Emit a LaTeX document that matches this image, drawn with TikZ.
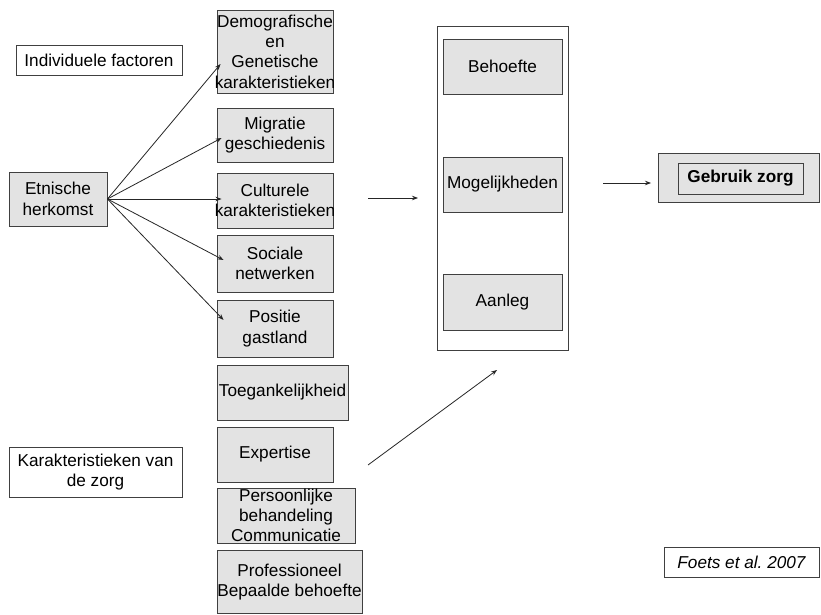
\documentclass[tikz,border=0pt]{standalone}
\usepackage{fontspec}
\setmainfont{Liberation Sans}
\usetikzlibrary{arrows.meta}
\definecolor{boxfill}{HTML}{E3E3E3}
\definecolor{edge}{HTML}{404040}
\newcommand{\myfs}{\fontsize{17.2}{20.3}\selectfont}
\begin{document}
\begin{tikzpicture}[x=1pt,y=-1pt,
 txt/.style={inner sep=0pt, align=center, font=\myfs},
 box/.style={txt, draw=edge, line width=0.9pt, fill=boxfill},
 wbox/.style={box, fill=white},
 arr/.style={draw=black!85, line width=0.8pt, -{Stealth[length=6pt,width=4.5pt]}}]
\useasboundingbox[fill=white] (0,0) rectangle (821,615);

% left labels
\node[wbox, minimum width=166pt, minimum height=30pt] (ind) at (99,60) {Individuele factoren};
\node[box, minimum width=98pt, minimum height=54pt] (etn) at (58,199) {Etnische\\herkomst};
\node[wbox, minimum width=173pt, minimum height=50pt] (kar) at (95.5,472) {Karakteristieken van\\de zorg};

% middle column
\node[box, minimum width=116pt, minimum height=83pt] (dem) at (275,51.5) {};
\node[txt] (demtxt) at (dem.center) {Demografische\\en\\Genetische\\karakteristieken};
\node[box, minimum width=116pt, minimum height=54pt] (mig) at (275,135) {Migratie\\geschiedenis};
\node[box, minimum width=116pt, minimum height=55pt] (cul) at (275,200.5) {};
\node[txt] (cultxt) at (cul.center) {Culturele\\karakteristieken};
\node[box, minimum width=116pt, minimum height=57pt] (soc) at (275,263.5) {Sociale\\netwerken};
\node[box, minimum width=116pt, minimum height=57pt] (pos) at (275,328.5) {Positie\\gastland};
\node[box, minimum width=131pt, minimum height=55pt] (toe) at (282.5,392.5) {Toegankelijkheid};
\node[box, minimum width=116pt, minimum height=55pt] (exp) at (275,454.5) {Expertise};
\node[box, minimum width=138pt, minimum height=55pt] (per) at (286,515.5) {};
\node[txt] (pertxt) at (per.center) {Persoonlijke\\behandeling\\Communicatie};
\node[box, minimum width=145pt, minimum height=63pt] (pro) at (289.5,582) {Professioneel\\Bepaalde behoefte};

% big box
\node[wbox, minimum width=131pt, minimum height=324pt] (big) at (502.5,188) {};
\node[box, minimum width=119pt, minimum height=55pt] (beh) at (502.5,66.5) {Behoefte};
\node[box, minimum width=119pt, minimum height=55pt] (mog) at (502.5,184.5) {Mogelijkheden};
\node[box, minimum width=119pt, minimum height=56pt] (aan) at (502.5,302) {Aanleg};

% result
\node[box, minimum width=161pt, minimum height=49pt] (geb) at (739,177.5) {};
\node[box, minimum width=125pt, minimum height=31pt, font=\myfs\bfseries] (gebin) at (740.5,178.5) {Gebruik zorg};

% source
\node[wbox, minimum width=155pt, minimum height=30pt, font=\myfs\itshape] (foets) at (741.5,562) {Foets et al.\ 2007};

% arrows from Etnische herkomst
\draw[arr] (etn.east) -- ([xshift=4pt,yshift=-12.5pt]dem.west);
\draw[arr] (etn.east) -- ([xshift=5pt,yshift=-3pt]mig.west);
\draw[arr] (etn.east) -- ([xshift=5pt,yshift=1.5pt]cul.west);
\draw[arr] (etn.east) -- ([xshift=7pt,yshift=3.5pt]soc.west);
\draw[arr] (etn.east) -- ([xshift=7pt,yshift=8.5pt]pos.west);

% free-standing arrows
\coordinate (c1) at (368,198);
\coordinate (c2) at (418,198);
\coordinate (c3) at (603,183);
\coordinate (c4) at (651,183);
\coordinate (c5) at (368,465);
\coordinate (c6) at (497,370);
\draw[arr] (c1) -- (c2);
\draw[arr] (c3) -- (c4);
\draw[arr] (c5) -- (c6);
\end{tikzpicture}
\end{document}
